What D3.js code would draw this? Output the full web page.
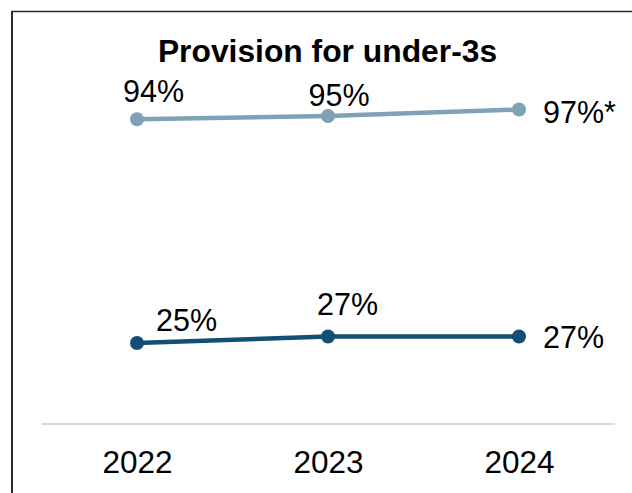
<!DOCTYPE html>
<html>
<head>
<meta charset="utf-8">
<script src="https://cdn.jsdelivr.net/npm/d3@7"></script>
<style>
  html, body { margin: 0; padding: 0; background: #fff; }
  svg { display: block; font-family: "Liberation Sans", Arial, sans-serif; }
</style>
</head>
<body>
<svg id="chart" width="632" height="493"></svg>
<script>
// Share of areas with provision for under-3s, by year
const years = ["2022", "2023", "2024"];
const upperSeries = [94, 95, 97];
const lowerSeries = [25, 27, 27];
const upperLabels = ["94%", "95%", "97%*"];
const lowerLabels = ["25%", "27%", "27%"];

const svg = d3.select("#chart");
const W = 632, H = 493;

// frame edges
svg.append("line").attr("x1", 12).attr("x2", 12).attr("y1", 11).attr("y2", H)
  .attr("stroke", "#2b2b2b").attr("stroke-width", 2);
svg.append("line").attr("x1", 11).attr("x2", W).attr("y1", 11.5).attr("y2", 11.5)
  .attr("stroke", "#2b2b2b").attr("stroke-width", 1.5);

const x = d3.scalePoint().domain(years).range([137, 519]);
const y = d3.scaleLinear().domain([0, 100]).range([424.1, 99.8]);

// title
svg.append("text").attr("x", 327.5).attr("y", 62)
  .attr("text-anchor", "middle").attr("font-weight", "bold")
  .attr("font-size", 31.8).attr("fill", "#000")
  .text("Provision for under-3s");

// baseline axis
const xAxis = d3.axisBottom(x).tickSize(0).tickPadding(0);
const axisG = svg.append("g").attr("transform", `translate(0,${y(0)})`).call(xAxis);
axisG.select(".domain").remove();
axisG.append("line").attr("x1", 42).attr("x2", 615).attr("y1", 0).attr("y2", 0)
  .attr("stroke", "#d9d9d9").attr("stroke-width", 2);
axisG.selectAll(".tick text")
  .attr("font-size", 31.5).attr("fill", "#000")
  .attr("font-family", "Liberation Sans, Arial, sans-serif")
  .attr("dy", null).attr("y", 49);

const series = [
  { values: upperSeries, labels: upperLabels, color: "#7fa2b6",
    offsets: [[16.5, -17], [11, -10], [24, 13.5]], anchors: ["middle", "middle", "start"] },
  { values: lowerSeries, labels: lowerLabels, color: "#134f74",
    offsets: [[49.5, -12], [19.5, -21.5], [24, 11.5]], anchors: ["middle", "middle", "start"] }
];

const line = d3.line().x((d, i) => x(years[i])).y(d => y(d));

series.forEach(s => {
  const g = svg.append("g");
  g.append("path").datum(s.values).attr("d", line)
    .attr("fill", "none").attr("stroke", s.color).attr("stroke-width", 4.5);
  g.selectAll("circle").data(s.values).join("circle")
    .attr("cx", (d, i) => x(years[i])).attr("cy", d => y(d)).attr("r", 7)
    .attr("fill", s.color);
  g.selectAll("text").data(s.values).join("text")
    .attr("x", (d, i) => x(years[i]) + s.offsets[i][0])
    .attr("y", (d, i) => y(d) + s.offsets[i][1])
    .attr("text-anchor", (d, i) => s.anchors[i])
    .attr("font-size", 30.5).attr("fill", "#000")
    .text((d, i) => s.labels[i]);
});
</script>
</body>
</html>
